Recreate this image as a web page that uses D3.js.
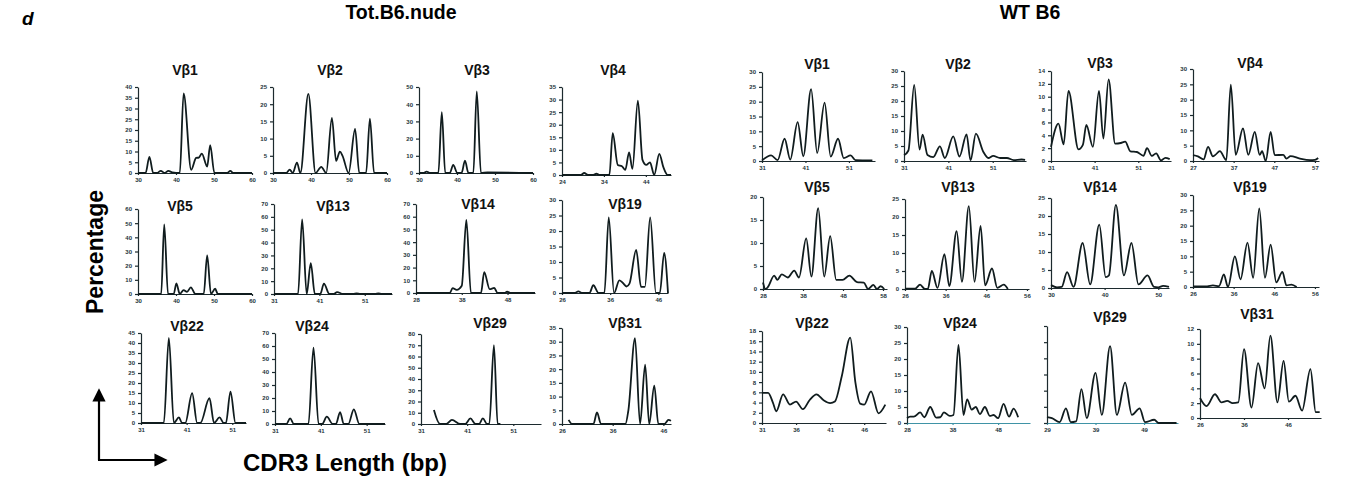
<!DOCTYPE html>
<html lang="en">
<head>
<meta charset="utf-8">
<title>CDR3 spectratypes</title>
<script src="https://cdn.jsdelivr.net/npm/d3@7"></script>
<style>
  body { margin: 0; background: #fff; }
  svg { display: block; font-family: "Liberation Sans", Arial, sans-serif; }
  .axis path, .axis line { stroke: #1c2a2e; stroke-width: 1.2; }
  .axis text { font-size: 6px; font-weight: bold; fill: #24343a; }
  .trace { fill: none; stroke: #101c1e; stroke-width: 1.8; }
</style>
</head>
<body>
<div id="chart"></div>
<script>
// ---- Tot.B6.nude spectratypes: [CDR3 length, %] ----
var nudeV1 = [[30,0],[32,0],[33,7.5],[34,0],[35,0],[36,1],[37,0],[38,1],[39,0.3],[41,0],[42,37],[44,1.5],[45.3,7],[46,7.2],[46.8,9],[48.2,3],[49,13],[50.1,0],[53.5,0],[54.3,1],[55,0],[60,0]];
var nudeV2 = [[30,0],[33.5,0],[34.4,1],[35.2,0],[36.3,3],[37.2,0],[39.3,23],[41.2,0],[42.7,1.8],[44,0],[45.5,16],[46.6,3.5],[47.6,6.2],[48.3,5],[49.9,0],[51.6,12.8],[52.7,0],[54.5,0],[55.5,15.8],[56.6,0],[60,0]];
var nudeV3 = [[30,0],[31.2,0],[32,0.8],[32.9,0],[35.1,0],[36,35.4],[36.9,0],[38.1,0],[39,4.7],[40.1,0],[41.2,0],[42.1,7.2],[43,0],[44.3,0],[45.2,47.5],[46.3,0],[48,0.3],[60,0]];
var nudeV4 = [[24,0],[28.5,0],[29.3,0.8],[30.2,0],[31.5,0],[32.2,0.5],[33,0],[35.3,0],[36.1,16.6],[37.3,4],[38.3,3.5],[39.1,2],[40,9],[40.8,2.4],[42.1,29.6],[43.2,6],[44.1,4],[45,5],[46,0],[47.2,8.4],[48.2,3],[49.2,0],[50,0]];
var nudeV5 = [[30,0],[36.1,0],[36.9,49.2],[37.9,0],[39.4,0],[40.1,7.5],[41,0],[42,2.8],[42.9,1.5],[43.9,4.7],[45.1,0],[47.3,0],[48.2,27.2],[49.2,0],[50.3,3.7],[51,0],[60,0]];
var nudeV13 = [[31,0],[36.3,0],[37.2,58],[38.2,0],[39.1,24],[40,0],[41.2,0],[42,8],[43.2,0],[44.2,0],[44.9,1.5],[46.2,0],[48.5,0],[49.2,0.5],[50,0],[53.3,0],[54,0.5],[54.7,0],[57,0]];
var nudeV14 = [[28,0],[35.4,0],[36,3.9],[36.9,2.5],[38,5.7],[39,57.4],[40,0],[42.2,0],[42.9,16.4],[44.1,3],[45.1,4],[45.8,0],[47.3,0],[47.9,1],[48.7,0],[54,0]];
var nudeV19 = [[26,0],[28.6,0],[29.4,0.5],[30.2,0],[31.7,0],[32.5,2.5],[33.6,0],[34.8,0],[35.7,24.4],[36.8,0],[37.9,4.1],[38.6,3.3],[39.4,2.1],[40,3],[41.4,13.9],[42.4,2],[43.2,2],[44.3,24.4],[45.5,0],[46.3,0],[47.2,12.9],[48,0]];
var nudeV22 = [[31,0],[36,0],[37.1,42.5],[38.2,0],[39.3,2.8],[40,0],[40.7,0],[42.2,14.9],[43.3,0],[44,0],[46,12.4],[47,0],[48.2,2.8],[49.1,0],[49.6,0],[50.6,15.7],[51.7,0],[54,0]];
var nudeV24 = [[31,0],[33.5,0],[34.3,4.3],[35.1,0],[38.3,0],[39.4,58.8],[40.5,0],[41.3,0],[42.3,5.6],[43.6,0],[44.3,0],[45.2,9.2],[46,0],[47,0],[48.2,11.3],[49.4,0],[55,0]];
var nudeV29 = [[33.8,12.4],[35.1,0],[36.5,0],[37.7,3.6],[39.5,0],[40.6,0],[41.7,5],[42.8,0],[43.6,0],[44.4,5],[45.3,0],[45.8,0],[46.8,70.2],[47.6,0],[48.2,0]];
var nudeV31 = [[27.3,1.5],[28,0],[32.2,0],[32.9,4.2],[33.7,0],[38.5,0],[39.1,5.1],[40.4,31.3],[41.4,0],[42.4,21.6],[43.2,0],[44.2,14],[45,0],[46.2,0],[47,1.5],[47.5,1.2]];

// ---- WT B6 spectratypes ----
var wtV1 = [[31,0.2],[33.1,1.9],[34.6,0.3],[36.2,7.5],[37.5,0.5],[39.2,13.1],[40.5,1.6],[42.3,24.2],[43.7,2.7],[45.4,19.7],[46.8,1.5],[48.5,7.5],[49.8,1],[51.4,1.9],[52.5,0.3],[56.4,0.2]];
var wtV2 = [[31,1.9],[32,3.5],[33.3,25.4],[34.5,3.8],[35.2,8.8],[36.3,2],[37.6,1.3],[39.1,4.9],[40.2,1],[42.1,8.2],[43.5,1.5],[45.1,8.9],[46,0.2],[47.2,9.1],[48.9,3],[50,1],[51.1,1.7],[52.7,1],[54.2,1],[55.7,0.3],[57.5,0.5],[58.3,0.4]];
var wtV3 = [[31,2.2],[32.7,5.8],[33.9,2.6],[35,10.9],[37.3,1.8],[38.3,2.5],[39.1,5.6],[40.6,2.2],[42,10.9],[43,3.5],[44.2,12.7],[45.7,2.7],[47,2.8],[48,3],[49.2,1.5],[50.7,1.4],[52.2,0.8],[53,2],[54.1,0.8],[55.1,1.2],[56.2,0.1],[57.2,0.5],[58.2,0.3]];
var wtV4 = [[27,1.9],[28.2,1.5],[29.6,0.5],[30.7,4.6],[31.9,1.5],[32.5,2],[33.6,3.2],[35.2,0.3],[36.3,24.9],[37.5,2],[39.3,10.6],[40.6,2],[42.2,9.5],[43.4,2],[44,3.2],[44.9,0],[46.1,9.5],[47.1,1.9],[49.2,2],[50,0.8],[51,1.6],[53.3,0.8],[55.8,0.3],[57,0.4],[57.8,1]];
var wtV5 = [[28,1.4],[28.6,0],[29.2,0.4],[30.8,2.9],[31.6,2],[32.7,3.2],[34.2,2.5],[35.8,4],[37,2.5],[38.8,11],[40.1,2.7],[41.8,17.6],[43.3,2.7],[44.8,11.5],[46.3,2],[47.9,2],[49.6,2.9],[51.5,1.5],[53.2,1.4],[54.3,0],[55.6,0.9],[56.5,0],[57.4,0.6],[58.3,0]];
var wtV13 = [[26,0.1],[28.5,0.1],[29.7,1.2],[30.9,0],[31.6,0],[32.6,5],[34,0.3],[35.7,9.7],[36.9,0.8],[38.7,16.1],[40,2],[41.7,23],[43.1,2],[44.6,17.5],[45.7,1],[47.4,5.7],[48.7,0.3],[50.3,1.2],[51.3,0]];
var wtV14 = [[30,0.8],[31.1,0.2],[32,0.3],[33,4.4],[34.2,0.3],[35.9,12.5],[37.3,1],[39,17.6],[40.2,3],[40.8,3.5],[42.1,23.1],[43.6,3.5],[45,12.5],[46.3,1],[48,3.5],[49.2,0.3],[50,0.2],[50.9,0.6],[52,0.3]];
var wtV19 = [[26,0.2],[29.5,0.2],[30.9,0.5],[32.4,0.3],[33.6,4.1],[34.6,0],[36.3,10],[37.7,2.5],[39.4,14.5],[40.8,3],[42.3,25.6],[43.7,3],[45.1,13.8],[46.5,1.5],[48,4.9],[49,0.5],[50.2,0.8],[51.5,0]];
var wtV22 = [[31,5.9],[31.9,5.9],[32.6,4],[33.1,2.3],[34.1,5.6],[35.1,3.6],[36,4.2],[37,2.7],[38,4.5],[39,5.6],[40,4.5],[41,3.9],[41.7,4.2],[42.7,9.1],[43.95,16.7],[44.7,8],[45.4,3.8],[46,3.6],[47,6.2],[48.1,1.9],[49.1,3.6]];
var wtV24 = [[28,1.5],[28.7,2],[29.5,2],[30.9,3.3],[31.8,1.8],[33.1,5],[34.4,1.7],[35.3,1.8],[36.1,3.3],[37.4,2.2],[38.2,2.5],[39.3,24.4],[40.4,2.5],[41.2,7.4],[42.2,4.2],[43.1,5],[44,2.8],[45.1,5],[46.2,2.2],[47,2.5],[48,1.5],[49.2,6],[50.4,2],[51.4,4.5],[52.4,1.8]];
var wtV29 = [[29,0.74],[30,0.6],[31.6,0.1],[32.9,1.8],[33.9,0.1],[35,0.2],[36.1,4.2],[37.2,0.6],[39,6.2],[40.3,1],[42,9.5],[43.4,1],[45.1,5],[46.5,1],[48.1,1.8],[49.2,0.1],[51.1,0.4],[52,0],[55.7,0]];
var wtV31 = [[26,2.7],[27.5,1.6],[29.4,3.2],[30.9,2.1],[32.2,2.3],[33.4,2],[34.7,2.1],[36,9.3],[37.7,1.4],[39.2,7.4],[40.7,4],[42,11.1],[43.6,2.1],[45,7.7],[46.2,2.2],[47.7,3],[49.2,1],[51.1,6.6],[52.3,0.8],[53.2,0.8]];

// x tick labels
var ticks30 = [30, 40, 50, 60];
var ticks31 = [31, 41, 51];
var ticks24 = [24, 34, 44];
var ticks28 = [28, 38, 48];
var ticks26 = [26, 36, 46];
var ticks27w = [27, 37, 47, 57];
var ticks28w = [28, 38, 48, 58];
var ticks26w = [26, 36, 46, 56];
var ticks30w = [30, 40, 50];
var ticks31f = [31, 36, 41, 46];
var ticks29 = [29, 39, 49];

// layout of each small chart
var panels = [
  {t:"Vβ1",  d:nudeV1,  dom:[30,60],   x0:138, x1:252, top:87,  base:173, ymax:40, step:5,  xt:ticks30, tx:185, ty:70},
  {t:"Vβ2",  d:nudeV2,  dom:[30,60],   x0:273, x1:387, top:87,  base:173, ymax:25, step:5,  xt:ticks30, tx:330, ty:70},
  {t:"Vβ3",  d:nudeV3,  dom:[30,60],   x0:419, x1:533, top:87,  base:173, ymax:50, step:10, xt:ticks30, tx:477, ty:70},
  {t:"Vβ4",  d:nudeV4,  dom:[24,50],   x0:562, x1:671, top:87,  base:175, ymax:35, step:5,  xt:ticks24, tx:613, ty:70},
  {t:"Vβ5",  d:nudeV5,  dom:[30,60],   x0:138, x1:252, top:209, base:294, ymax:60, step:10, xt:ticks30, tx:180, ty:206},
  {t:"Vβ13", d:nudeV13, dom:[31,57],   x0:274, x1:392, top:204, base:294, ymax:70, step:10, xt:ticks31, tx:333, ty:206},
  {t:"Vβ14", d:nudeV14, dom:[28,54],   x0:416, x1:535, top:204, base:293, ymax:70, step:10, xt:ticks28, tx:478, ty:204},
  {t:"Vβ19", d:nudeV19, dom:[26,48],   x0:562, x1:668, top:200, base:293, ymax:30, step:5,  xt:ticks26, tx:625, ty:204},
  {t:"Vβ22", d:nudeV22, dom:[31,54],   x0:141, x1:246, top:333, base:423, ymax:45, step:5,  xt:ticks31, tx:187, ty:326},
  {t:"Vβ24", d:nudeV24, dom:[31,55],   x0:275, x1:385, top:333, base:424, ymax:70, step:10, xt:ticks31, tx:312, ty:326},
  {t:"Vβ29", d:nudeV29, dom:[31,57],   x0:421, x1:541, top:334, base:424, ymax:80, step:10, xt:ticks31, tx:490, ty:323},
  {t:"Vβ31", d:nudeV31, dom:[26,47.5], x0:562, x1:671, top:328, base:424, ymax:35, step:5,  xt:ticks26, tx:625, ty:323},

  {t:"Vβ1",  d:wtV1,  dom:[31,57],   x0:762,  x1:875,  top:72,  base:161, ymax:30, step:5, xt:ticks31,  tx:817,  ty:64},
  {t:"Vβ2",  d:wtV2,  dom:[31,58.5], x0:904,  x1:1026, top:71,  base:161, ymax:30, step:5, xt:ticks31,  tx:958,  ty:64},
  {t:"Vβ3",  d:wtV3,  dom:[31,58.5], x0:1051, x1:1171, top:71,  base:161, ymax:14, step:2, xt:ticks31,  tx:1100, ty:63},
  {t:"Vβ4",  d:wtV4,  dom:[27,58],   x0:1193, x1:1319, top:69,  base:161, ymax:30, step:5, xt:ticks27w, tx:1250, ty:63},
  {t:"Vβ5",  d:wtV5,  dom:[28,59],   x0:763,  x1:887,  top:197, base:289, ymax:20, step:5, xt:ticks28w, tx:817,  ty:187},
  {t:"Vβ13", d:wtV13, dom:[26,56.5], x0:905,  x1:1029, top:199, base:289, ymax:25, step:5, xt:ticks26w, tx:958,  ty:187},
  {t:"Vβ14", d:wtV14, dom:[30,52],   x0:1051, x1:1169, top:198, base:288, ymax:25, step:5, xt:ticks30w, tx:1100, ty:187},
  {t:"Vβ19", d:wtV19, dom:[26,57],   x0:1193, x1:1319, top:195, base:287, ymax:30, step:5, xt:ticks26w, tx:1250, ty:187},
  {t:"Vβ22", d:wtV22, dom:[31,49.2], x0:762,  x1:886,  top:331, base:423, ymax:18, step:2, xt:ticks31f, tx:812,  ty:323},
  {t:"Vβ24", d:wtV24, dom:[28,55],   x0:907,  x1:1030, top:327, base:423, ymax:30, step:5, xt:ticks28,  tx:960,  ty:323, teal:true},
  {t:"Vβ29", d:wtV29, dom:[29,56],   x0:1047, x1:1178, top:326, base:423, ymax:12, step:2, xt:ticks29,  tx:1110, ty:317, teal:true, nolabels:true},
  {t:"Vβ31", d:wtV31, dom:[26,53.5], x0:1200, x1:1321, top:329, base:418, ymax:12, step:2, xt:ticks26,  tx:1257, ty:314}
];

var w = 1350, h = 484;

var svg = d3.select("#chart")
    .append("svg")
    .attr("width", w)
    .attr("height", h);

panels.forEach(function (p) {
    var x = d3.scaleLinear().domain(p.dom).range([p.x0, p.x1]);
    var y = d3.scaleLinear().domain([0, p.ymax]).range([p.base, p.top]);

    var g = svg.append("g");

    // x axis
    var gx = g.append("g")
        .attr("class", "axis")
        .attr("transform", "translate(0," + p.base + ")")
        .call(d3.axisBottom(x).tickValues(p.xt).tickSize(2).tickSizeOuter(0).tickPadding(3));
    if (p.teal) gx.selectAll("path,line").style("stroke", "#3f93a6");

    // y axis
    var yAxis = d3.axisLeft(y)
        .tickValues(d3.range(0, p.ymax + 0.001, p.step))
        .tickSize(3).tickSizeOuter(0).tickPadding(3);
    if (p.nolabels) yAxis.tickFormat("");
    g.append("g")
        .attr("class", "axis")
        .attr("transform", "translate(" + p.x0 + ",0)")
        .call(yAxis);

    // spectratype trace
    var line = d3.line()
        .x(function (d) { return x(d[0]); })
        .y(function (d) { return y(d[1]); })
        .curve(d3.curveMonotoneX);
    g.append("path")
        .datum(p.d)
        .attr("class", "trace")
        .attr("d", line);

    // title
    g.append("text")
        .attr("x", p.tx)
        .attr("y", p.ty)
        .attr("text-anchor", "middle")
        .attr("dominant-baseline", "central")
        .style("font-size", "14px")
        .style("font-weight", "bold")
        .style("fill", "#111")
        .text(p.t);
});

// group headings and figure letter
svg.append("text").attr("x", 22).attr("y", 25)
    .style("font-size", "19px").style("font-weight", "bold").style("font-style", "italic")
    .text("d");
svg.append("text").attr("x", 401).attr("y", 19).attr("text-anchor", "middle")
    .style("font-size", "19.5px").style("font-weight", "bold")
    .text("Tot.B6.nude");
svg.append("text").attr("x", 1030).attr("y", 19).attr("text-anchor", "middle")
    .style("font-size", "19.5px").style("font-weight", "bold")
    .text("WT B6");

// axis titles and corner arrows
svg.append("text")
    .attr("transform", "translate(103,252) rotate(-90)")
    .attr("text-anchor", "middle")
    .style("font-size", "23px").style("font-weight", "bold")
    .text("Percentage");

svg.append("text").attr("x", 243).attr("y", 471)
    .style("font-size", "24px").style("font-weight", "bold")
    .text("CDR3 Length (bp)");

svg.append("defs").append("marker")
    .attr("id", "arr")
    .attr("viewBox", "0 0 10 10")
    .attr("refX", 8).attr("refY", 5)
    .attr("markerWidth", 6).attr("markerHeight", 6)
    .attr("orient", "auto")
    .append("path")
    .attr("d", "M0,0 L10,5 L0,10 z")
    .attr("fill", "#000");

svg.append("path")
    .attr("d", "M99,460 L99,391")
    .attr("stroke", "#000").attr("stroke-width", 2.2)
    .attr("marker-end", "url(#arr)");
svg.append("path")
    .attr("d", "M98,460 L165,460")
    .attr("stroke", "#000").attr("stroke-width", 2.2)
    .attr("marker-end", "url(#arr)");
</script>
</body>
</html>
